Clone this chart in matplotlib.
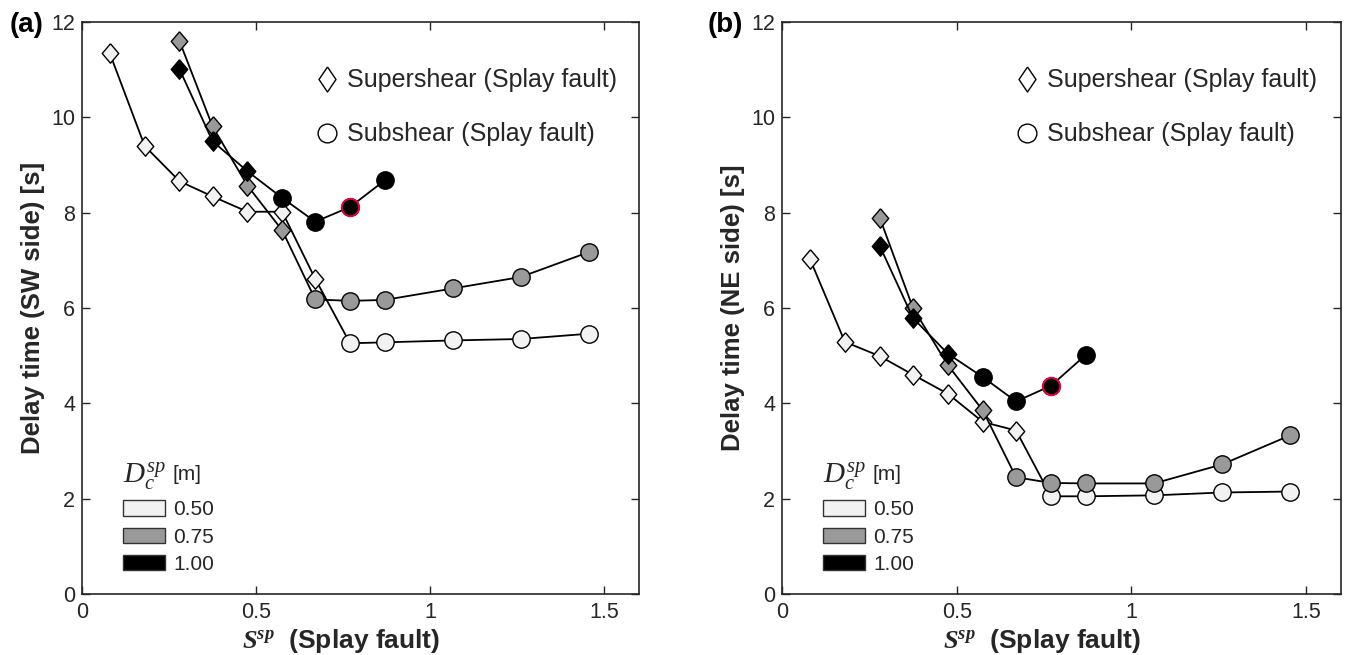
import matplotlib
matplotlib.use("Agg")
import matplotlib.pyplot as plt
from matplotlib.lines import Line2D
from matplotlib.patches import Patch
import numpy as np

plt.rcParams['font.family'] = ['Liberation Sans', 'DejaVu Sans']
plt.rcParams['mathtext.fontset'] = 'custom'
plt.rcParams['mathtext.rm'] = 'Liberation Serif'
plt.rcParams['mathtext.it'] = 'Liberation Serif:italic'
plt.rcParams['mathtext.bf'] = 'Liberation Serif:bold'
plt.rcParams['mathtext.bfit'] = 'Liberation Serif:italic:bold'

# S^sp values of the runs
x_050_super = [0.08, 0.18, 0.28, 0.375, 0.475, 0.575, 0.67]
x_050_sub = [0.77, 0.87, 1.065, 1.26, 1.455]
x_075_super = [0.28, 0.375, 0.475, 0.575]
x_075_sub = [0.67, 0.77, 0.87, 1.065, 1.26, 1.455]
x_100_super = [0.28, 0.375, 0.475]
x_100_sub = [0.575, 0.67, 0.77, 0.87]

# (a) delay time, SW side [s]
sw_050_super = [11.34, 9.40, 8.66, 8.34, 8.02, 8.02, 6.61]
sw_050_sub = [5.26, 5.28, 5.32, 5.35, 5.46]
sw_075_super = [11.60, 9.81, 8.57, 7.63]
sw_075_sub = [6.18, 6.15, 6.17, 6.41, 6.65, 7.17]
sw_100_super = [11.01, 9.50, 8.87]
sw_100_sub = [8.31, 7.81, 8.12, 8.68]

# (b) delay time, NE side [s]
ne_050_super = [7.03, 5.29, 4.99, 4.60, 4.20, 3.61, 3.43]
ne_050_sub = [2.05, 2.05, 2.07, 2.13, 2.15]
ne_075_super = [7.89, 6.00, 4.80, 3.85]
ne_075_sub = [2.45, 2.33, 2.32, 2.32, 2.72, 3.33]
ne_100_super = [7.30, 5.79, 5.04]
ne_100_sub = [4.55, 4.04, 4.37, 5.02]

dc_labels = ['0.50', '0.75', '1.00']
dc_colors = ['#f2f2f2', '#999999', '#000000']
red_idx = 2  # subshear point of Dc=1.00 outlined in red

diamond = [(0, 1), (0.85, 0), (0, -1), (-0.85, 0), (0, 1)]
diamond_leg = [(0, 1), (0.68, 0), (0, -1), (-0.68, 0), (0, 1)]
axc = '#262626'

panels = [
    ('(a)', 'Delay time (SW side) [s]',
     [(x_050_super, x_050_sub, sw_050_super, sw_050_sub),
      (x_075_super, x_075_sub, sw_075_super, sw_075_sub),
      (x_100_super, x_100_sub, sw_100_super, sw_100_sub)]),
    ('(b)', 'Delay time (NE side) [s]',
     [(x_050_super, x_050_sub, ne_050_super, ne_050_sub),
      (x_075_super, x_075_sub, ne_075_super, ne_075_sub),
      (x_100_super, x_100_sub, ne_100_super, ne_100_sub)]),
]

fig = plt.figure(figsize=(13.51, 6.55), dpi=100)
rects = [[0.0607, 0.0931, 0.4123, 0.8733], [0.5788, 0.0931, 0.4138, 0.8733]]

for rect, (tag, ylab, series) in zip(rects, panels):
    ax = fig.add_axes(rect)
    for i, (xs1, xs2, ys1, ys2) in enumerate(series):
        z = 2 + i
        ax.plot(xs1 + xs2, ys1 + ys2, '-', color='k', lw=1.3, zorder=z)
        ax.plot(xs1, ys1, ls='none', marker=diamond, ms=14, mfc=dc_colors[i],
                mec='k', mew=1.0, zorder=z)
        ax.plot(xs2, ys2, ls='none', marker='o', ms=12.5, mfc=dc_colors[i],
                mec='k', mew=1.0, zorder=z)
        if i == 2:
            ax.plot(xs2[red_idx], ys2[red_idx], ls='none', marker='o', ms=12.5,
                    mfc='k', mec='#e8003d', mew=1.4, zorder=z + 0.5)

    ax.set_xlim(0, 1.6)
    ax.set_ylim(0, 12)
    ax.set_xticks([0, 0.5, 1, 1.5])
    ax.set_xticklabels(['0', '0.5', '1', '1.5'])
    ax.set_yticks(np.arange(0, 13, 2))
    ax.tick_params(direction='in', length=6, width=1.0, colors=axc,
                   labelsize=15.5, top=True, right=True)
    ax.tick_params(axis='x', pad=6)
    ax.tick_params(axis='y', pad=5)
    for s in ax.spines.values():
        s.set_color(axc)
        s.set_linewidth(1.2)

    ax.set_ylabel(ylab, fontsize=18.5, fontweight='bold', color=axc)
    ax.yaxis.set_label_coords(-0.066, 0.5)
    ax.set_xlabel(r'$\mathbfit{S^{sp}}$  (Splay fault)', fontsize=19,
                  fontweight='bold', color=axc)
    ax.xaxis.set_label_coords(0.465, -0.058)
    ax.text(-0.07, 0.995, tag, transform=ax.transAxes, ha='right', va='center',
            fontsize=20, fontweight='bold', color='k')

    h1 = [Line2D([], [], ls='none', marker=diamond_leg, ms=18, mfc='white', mec='k', mew=1.0),
          Line2D([], [], ls='none', marker='o', ms=13.5, mfc='white', mec='k', mew=1.0)]
    leg1 = ax.legend(h1, ['Supershear (Splay fault)', 'Subshear (Splay fault)'],
                     loc='upper left', bbox_to_anchor=(0.4165, 0.919), frameon=False,
                     fontsize=18, handlelength=1.0, handletextpad=0.3,
                     labelspacing=1.2, borderpad=0, borderaxespad=0)
    for t in leg1.get_texts():
        t.set_color(axc)
    ax.add_artist(leg1)

    h2 = [Patch(facecolor=c, edgecolor='#333333', lw=1.0) for c in dc_colors]
    leg2 = ax.legend(h2, dc_labels, loc='lower left', bbox_to_anchor=(0.0736, 0.035),
                     frameon=False, fontsize=15, handlelength=2.0, handleheight=0.75,
                     handletextpad=0.4, labelspacing=0.4, borderpad=0,
                     borderaxespad=0, title=r'$D_c^{sp}$', alignment='left')
    for t in leg2.get_texts():
        t.set_color(axc)
    leg2.get_title().set_color(axc)
    leg2.get_title().set_fontsize(21)
    ax.annotate('[m]', xy=(1, 0.55), xycoords=leg2.get_title(), xytext=(5, 0),
                textcoords='offset points', ha='left', va='center',
                fontsize=15, color=axc, zorder=10)

fig.savefig('out.png', dpi=100)
